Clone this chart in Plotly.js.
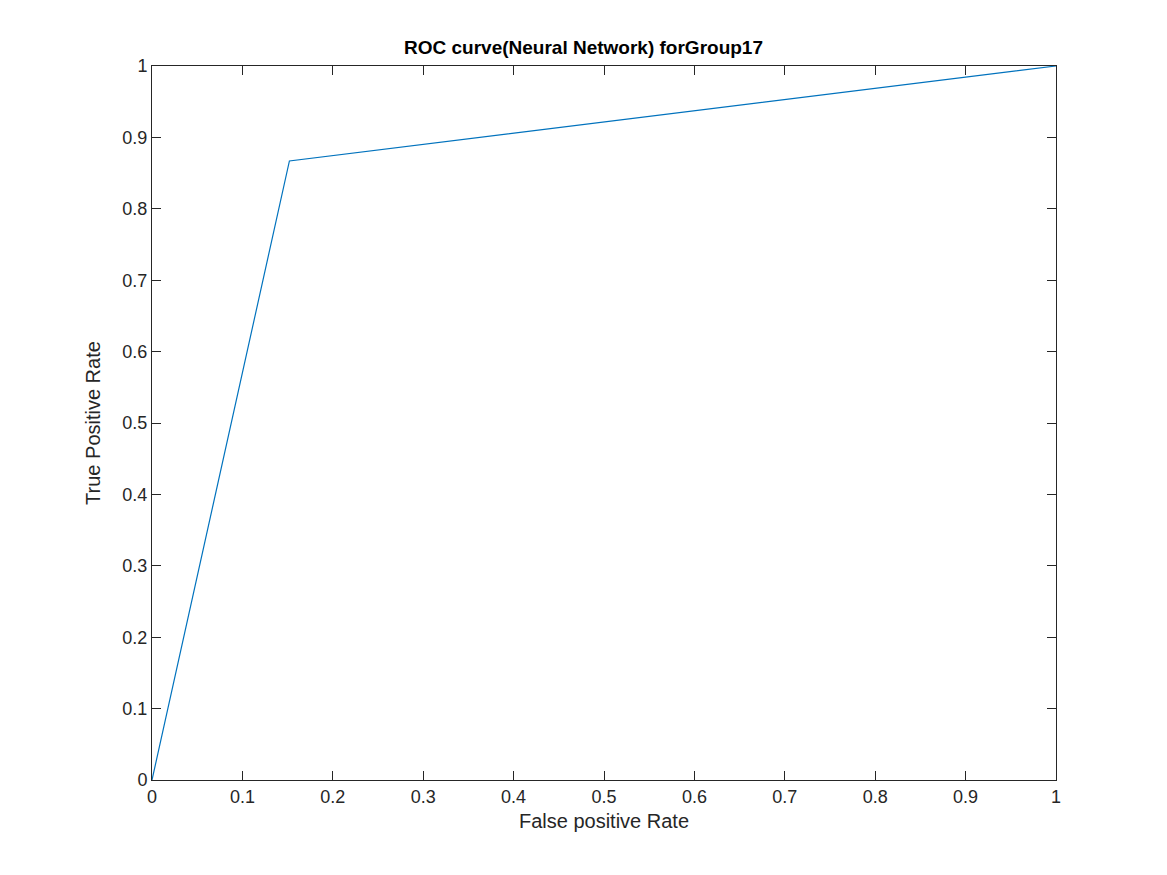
<!DOCTYPE html>
<html>
<head>
<script src="https://cdn.plot.ly/plotly-3.0.1.min.js"></script>
<style>html,body{margin:0;padding:0;background:#fff}</style>
</head>
<body>
<div id="chart" style="width:1167px;height:875px"></div>
<script>
// ROC points
const fpr = [0, 0.152, 1];
const tpr = [0, 0.867, 1];
const ticks = [0, 0.1, 0.2, 0.3, 0.4, 0.5, 0.6, 0.7, 0.8, 0.9, 1];
const tickText = ['0', '0.1', '0.2', '0.3', '0.4', '0.5', '0.6', '0.7', '0.8', '0.9', '1'];

const axisBase = {
    range: [0, 1],
    tickvals: ticks,
    ticktext: tickText,
    ticks: 'inside',
    ticklen: 9,
    tickcolor: '#262626',
    showline: true,
    linecolor: '#262626',
    linewidth: 1,
    mirror: 'ticks',
    showgrid: false,
    zeroline: false,
    tickfont: {size: 18, color: '#262626'}
};

Plotly.newPlot('chart', [{
    x: fpr,
    y: tpr,
    mode: 'lines',
    type: 'scatter',
    line: {color: '#0072BD', width: 1.2}
}], {
    width: 1167,
    height: 875,
    margin: {l: 152, r: 111, t: 66, b: 95},
    font: {family: 'Liberation Sans, Arial, sans-serif', color: '#262626'},
    title: {text: '<b>ROC curve(Neural Network) forGroup17</b>', font: {size: 19, color: '#000'}, x: 0.5, xanchor: 'center', y: 0.938, yanchor: 'bottom'},
    xaxis: Object.assign({}, axisBase, {title: {text: 'False positive Rate', font: {size: 20}, standoff: 8}}),
    yaxis: Object.assign({}, axisBase, {title: {text: 'True Positive Rate', font: {size: 20}, standoff: 16}}),
    showlegend: false,
    plot_bgcolor: '#fff',
    paper_bgcolor: '#fff'
}, {displayModeBar: false});
</script>
</body>
</html>
